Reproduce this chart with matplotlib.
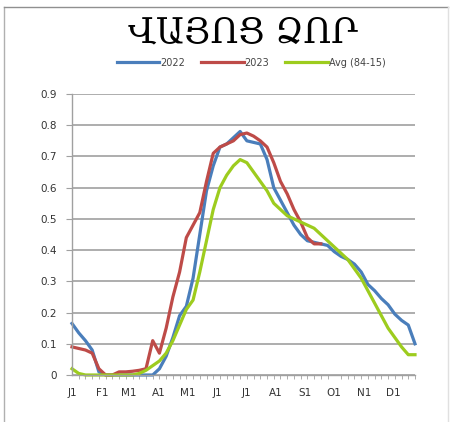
import numpy as np
import matplotlib
matplotlib.use("Agg")
import matplotlib.pyplot as plt
from matplotlib.lines import Line2D

# weekly values, week 0 = Jan 1
weeks = np.arange(52)

y2022 = [0.165, 0.135, 0.11, 0.08, 0.01, 0, 0, 0, 0, 0,
         0, 0, 0, 0.02, 0.06, 0.12, 0.19, 0.22, 0.31, 0.45,
         0.59, 0.67, 0.73, 0.74, 0.76, 0.78, 0.75, 0.745, 0.74, 0.69,
         0.60, 0.56, 0.52, 0.48, 0.45, 0.43, 0.425, 0.42, 0.415, 0.395,
         0.38, 0.37, 0.355, 0.33, 0.29, 0.27, 0.245, 0.225, 0.195, 0.175,
         0.16, 0.10]

# 2023 stops in September
y2023 = [0.09, 0.085, 0.08, 0.07, 0.02, 0.0, 0.0, 0.01, 0.01, 0.012,
         0.015, 0.02, 0.11, 0.07, 0.15, 0.25, 0.33, 0.44, 0.48, 0.52,
         0.62, 0.71, 0.73, 0.74, 0.75, 0.77, 0.775, 0.765, 0.75, 0.73,
         0.68, 0.62, 0.58, 0.53, 0.49, 0.44, 0.42, 0.42]

yavg = [0.02, 0.005, 0, 0, 0, 0, 0, 0, 0, 0,
        0.005, 0.015, 0.03, 0.045, 0.07, 0.11, 0.16, 0.21, 0.24, 0.33,
        0.43, 0.53, 0.60, 0.64, 0.67, 0.69, 0.68, 0.65, 0.62, 0.59,
        0.55, 0.53, 0.51, 0.50, 0.49, 0.48, 0.47, 0.45, 0.43, 0.41,
        0.39, 0.37, 0.34, 0.31, 0.27, 0.23, 0.19, 0.15, 0.12, 0.09,
        0.065, 0.065]

month_labels = ['J1', 'F1', 'M1', 'A1', 'M1', 'J1', 'J1', 'A1', 'S1', 'O1', 'N1', 'D1']
month_start_day = [0, 31, 59, 90, 120, 151, 181, 212, 243, 273, 304, 334]

title = 'ՎԱՅՈՑ ՁՈՐ'

c_blue = '#4a7ebb'
c_red = '#be4b48'
c_green = '#9dcc1e'

fig = plt.figure(figsize=(4.54, 4.22), dpi=100)
ax = fig.add_axes([72 / 454, 1 - 375 / 422, 343 / 454, 281 / 422])

ax.plot(weeks, y2022, color=c_blue, lw=2.3, clip_on=False, label='2022', solid_joinstyle='round')
ax.plot(weeks[:len(y2023)], y2023, color=c_red, lw=2.3, clip_on=False, label='2023', solid_joinstyle='round')
ax.plot(weeks, yavg, color=c_green, lw=2.3, clip_on=False, label='Avg (84-15)', solid_joinstyle='round')

ax.set_xlim(0, 51)
ax.set_ylim(0, 0.9)
ax.set_yticks(np.arange(0, 0.91, 0.1))
ax.set_yticklabels(['0'] + [f'{v:.1f}' for v in np.arange(0.1, 0.91, 0.1)])
ax.set_xticks(np.array(month_start_day) / 7)
ax.set_xticklabels(month_labels)
ax.set_xticks(weeks, minor=True)

ax.grid(axis='y', color='#a0a0a0', lw=1.2)
ax.set_axisbelow(True)
for s in ['top', 'right']:
    ax.spines[s].set_visible(False)
for s in ['left', 'bottom']:
    ax.spines[s].set_color('#a0a0a0')
    ax.spines[s].set_linewidth(1.0)

ax.tick_params(axis='y', length=4, color='#a0a0a0', labelsize=7.5, labelcolor='#333333', pad=7)
ax.tick_params(axis='x', which='major', length=0, labelsize=7.5, labelcolor='#333333', pad=9)
ax.tick_params(axis='x', which='minor', length=3, color='#a0a0a0')

fig.text(0.535, 0.922, title, ha='center', va='center', fontsize=25,
         family=['DejaVu Serif', 'DejaVu Sans'], color='black')

fig.legend(loc='center', bbox_to_anchor=(0.553, 0.851), ncol=3, frameon=False,
           fontsize=7, handlelength=4.4, handletextpad=0.1, columnspacing=1.6,
           labelcolor='#444444')

# outer frame
fig.add_artist(Line2D([4 / 454, 4 / 454], [0, 1 - 7 / 422], transform=fig.transFigure, color='#b0b0b0', lw=1))
fig.add_artist(Line2D([4 / 454, 448 / 454], [1 - 7 / 422, 1 - 7 / 422], transform=fig.transFigure, color='#909090', lw=1))
fig.add_artist(Line2D([448 / 454, 448 / 454], [0, 1 - 7 / 422], transform=fig.transFigure, color='#e0e0e0', lw=1))

fig.savefig('out.png', dpi=100)
